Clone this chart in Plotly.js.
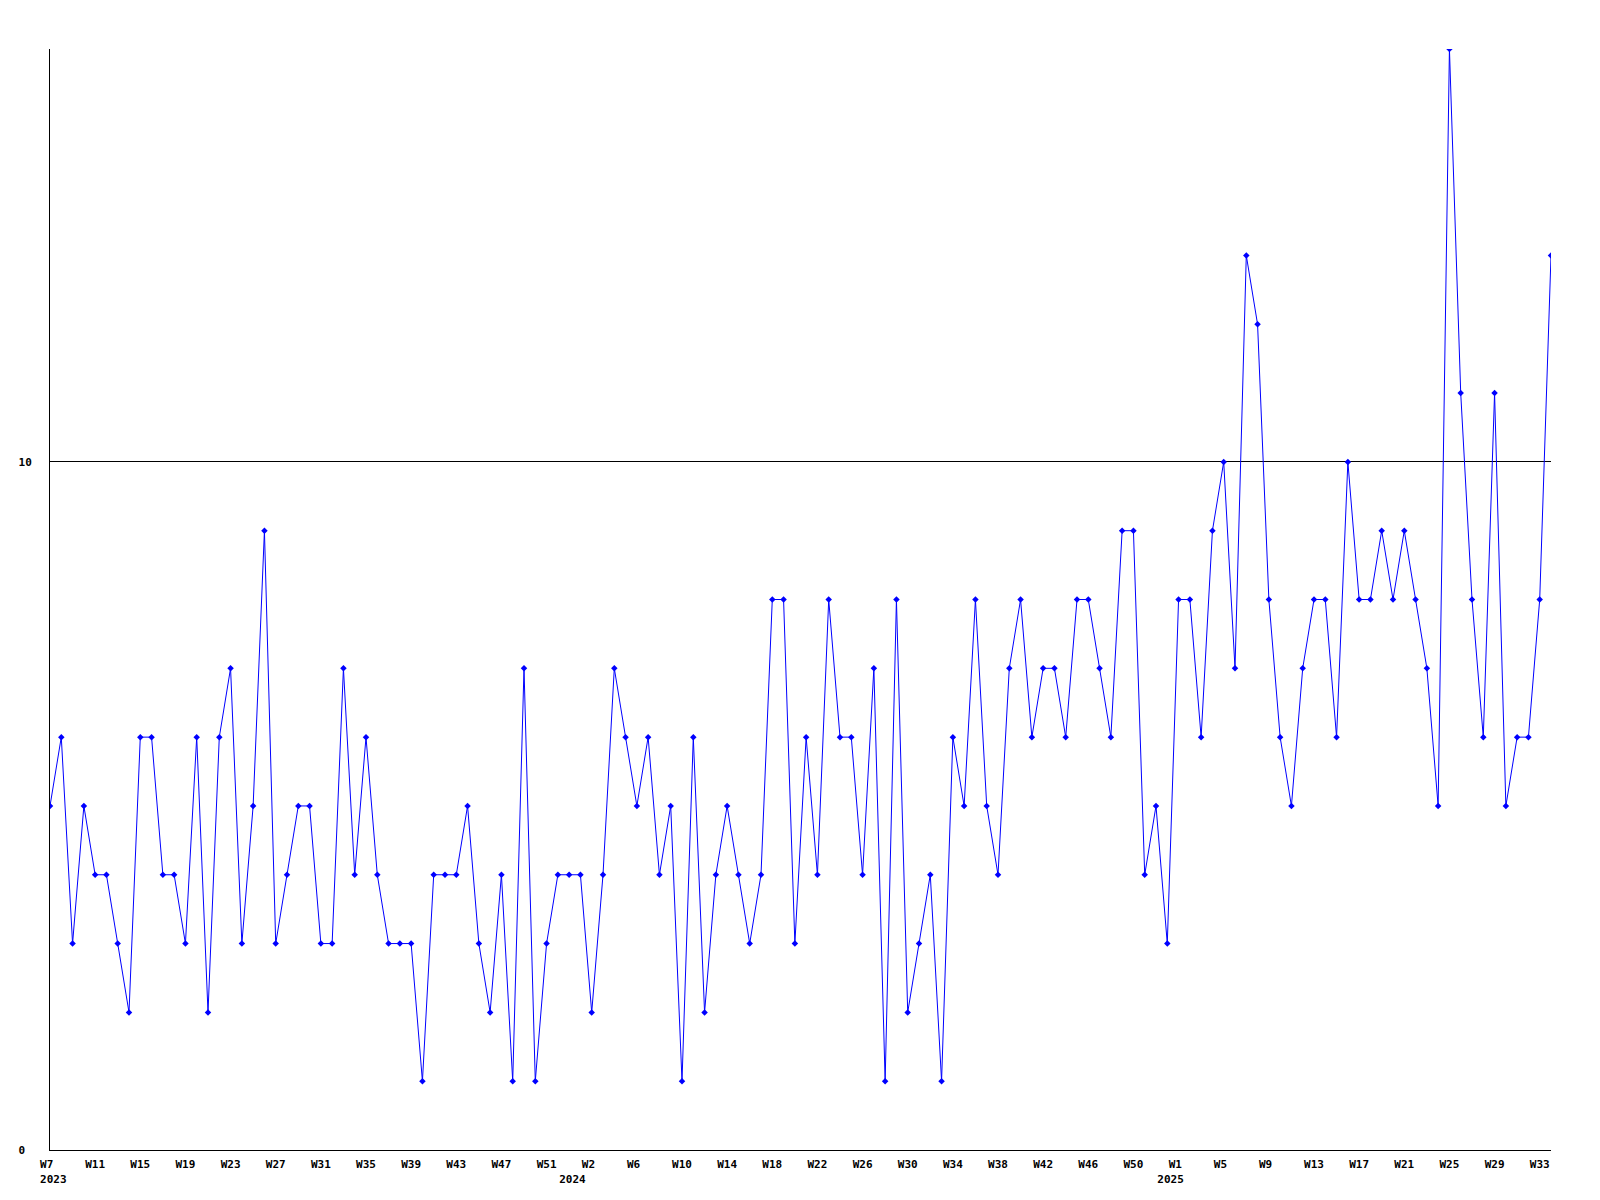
<!DOCTYPE html>
<html>
<head>
<meta charset="utf-8">
<script src="https://cdn.plot.ly/plotly-3.0.1.min.js"></script>
<style>
  html, body { margin: 0; padding: 0; background: #ffffff; }
  #chart { width: 1600px; height: 1200px; }
</style>
</head>
<body>
<div id="chart"></div>
<script>
// Weekly counts
const values2023 = [5,6,3,5,4,4,3,2,6,6, 4,4,3,6,2,6,7,3,5,9, 3,4,5,5,3,3,7,4,6,4, 3,3,3,1,4,4,4,5,3,2, 4,1,7,1,3,4];
const values2024 = [4,4,2,4, 7,6,5,6,4,5,1,6,2,4, 5,4,3,4,8,8,3,6,4,8, 6,6,4,7,1,8,2,3,4,1, 6,5,8,5,4,7,8,6,7,7, 6,8,8,7,6,9,9,4,5];
const values2025 = [3, 8,8,6,9,10,7,13,12,8,6, 5,7,8,8,6,10,8,8,9,8, 9,8,7,5,16,11,8,6,11,5, 6,6,8,13];

// Week tick labels (every 4th week) and year labels
const weekTickLabels = ['W7','W11','W15','W19','W23','W27','W31','W35','W39','W43','W47','W51',
  'W2','W6','W10','W14','W18','W22','W26','W30','W34','W38','W42','W46','W50',
  'W1','W5','W9','W13','W17','W21','W25','W29','W33'];
const yearLabels = ['2023','2024','2025'];
const firstWeek = '2023-02-13';

const values = values2023.concat(values2024, values2025);

// weekly categories (week start dates)
const weeks = [];
const start = new Date(firstWeek + 'T00:00:00Z');
for (let i = 0; i < values.length; i++) {
  const d = new Date(start.getTime() + i * 7 * 86400000);
  weeks.push(d.toISOString().slice(0, 10));
}
const NB = '\u00a0';
const pad = s => s.length < 3 ? s + NB.repeat(3 - s.length) : s;
const yearStart = yearLabels.map(y => weeks.find(w => w.slice(0, 4) === y));

// merge week ticks and year ticks into one tick list
const tickMap = new Map();
weeks.forEach((w, i) => { if (i % 4 === 0) tickMap.set(w, { wk: pad(weekTickLabels[i / 4]), yr: null }); });
yearStart.forEach((w, j) => {
  const e = tickMap.get(w) || { wk: NB, yr: null };
  e.yr = NB + yearLabels[j];
  tickMap.set(w, e);
});
const tickVals = Array.from(tickMap.keys()).sort();
const tickText = tickVals.map(v => {
  const e = tickMap.get(v);
  return e.yr ? e.wk + '<br>' + e.yr : e.wk;
});

const font = { family: 'DejaVu Sans Mono, monospace', size: 11, color: '#000000', weight: 'bold' };

const trace = {
  x: weeks,
  y: values,
  type: 'scatter',
  mode: 'lines+markers',
  line: { color: '#0000ff', width: 1 },
  marker: { color: '#0000ff', symbol: 'diamond', size: 5 },
  hoverinfo: 'x+y',
  showlegend: false
};

const layout = {
  width: 1600,
  height: 1200,
  paper_bgcolor: '#ffffff',
  plot_bgcolor: '#ffffff',
  margin: { l: 50, r: 49, t: 49, b: 50 },
  font: font,
  showlegend: false,
  xaxis: {
    type: 'date',
    range: [weeks[0], weeks[weeks.length - 1]],
    tickmode: 'array',
    tickvals: tickVals,
    ticktext: tickText,
    showgrid: false,
    zeroline: false,
    showline: true,
    linecolor: '#000000',
    linewidth: 1,
    ticks: 'outside',
    ticklen: 4,
    tickcolor: 'rgba(0,0,0,0)',
    tickfont: font,
    tickangle: 0,
    fixedrange: true
  },
  yaxis: {
    range: [0, 16],
    tickmode: 'array',
    tickvals: [0, 10],
    ticktext: ['0' + NB, '10'],
    showgrid: true,
    gridcolor: '#000000',
    gridwidth: 1,
    zeroline: false,
    showline: true,
    linecolor: '#000000',
    linewidth: 1,
    ticks: 'outside',
    ticklen: 15,
    tickcolor: 'rgba(0,0,0,0)',
    tickfont: font,
    fixedrange: true
  }
};

Plotly.newPlot('chart', [trace], layout, { displayModeBar: false, staticPlot: true });
</script>
</body>
</html>
